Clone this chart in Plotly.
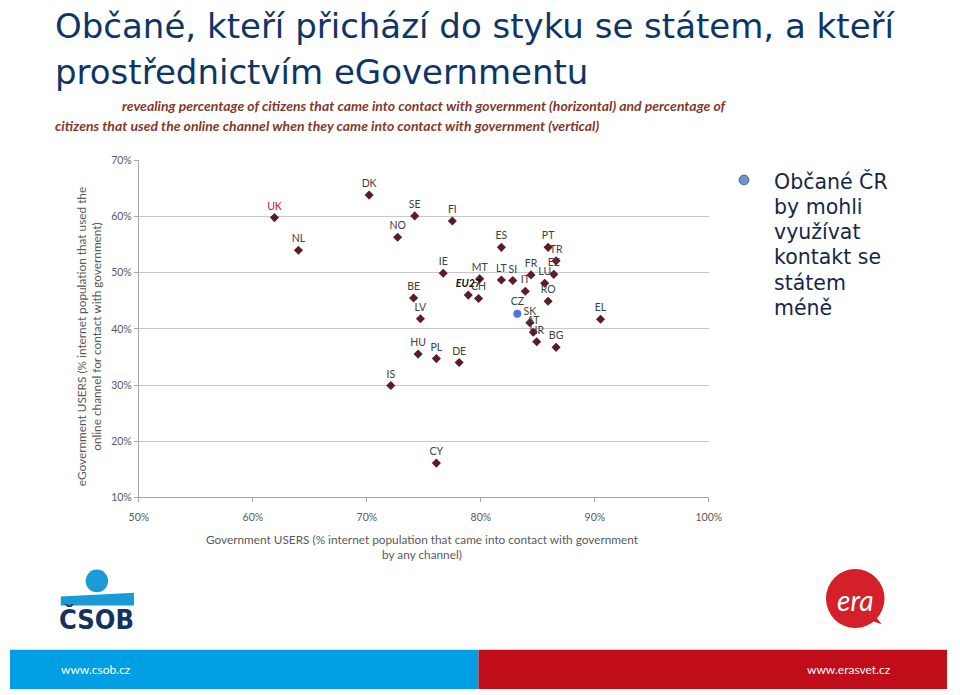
import plotly.graph_objects as go

# ---------------- data ----------------
countries = ["UK", "NL", "DK", "SE", "FI", "NO", "IE", "MT", "CH", "BE", "LV",
             "ES", "LT", "SI", "IT", "FR", "LU", "PT", "TR", "EE", "RO", "SK",
             "AT", "HR", "BG", "EL", "HU", "PL", "DE", "IS", "CY"]
contact_pct = [61.9, 64.0, 70.2, 74.2, 77.5, 72.7, 76.7, 79.9, 79.8, 74.1, 74.7,
               81.8, 81.8, 82.8, 83.9, 84.4, 85.6, 85.9, 86.6, 86.4, 85.9, 84.3,
               84.6, 84.9, 86.6, 90.5, 74.5, 76.1, 78.1, 72.1, 76.1]
online_pct = [59.8, 54.0, 63.8, 60.1, 59.2, 56.3, 49.9, 48.9, 45.4, 45.5, 41.8,
              54.5, 48.7, 48.6, 46.7, 49.6, 48.1, 54.5, 52.1, 49.7, 44.9, 41.1,
              39.4, 37.7, 36.7, 41.7, 35.5, 34.7, 34.0, 29.9, 16.1]
eu_label = ["EU27"]
eu_contact = [78.9]
eu_online = [46.0]
cz_label = ["CZ"]
cz_contact = [83.2]
cz_online = [42.7]
x_ticks = [50, 60, 70, 80, 90, 100]
y_ticks = [10, 20, 30, 40, 50, 60, 70]
x_tick_labels = [f"{v}%" for v in x_ticks]
y_tick_labels = [f"{v}%" for v in y_ticks]
bullet_lines = ["Občané ČR", "by mohli", "využívat", "kontakt se", "státem", "méně"]

W, H = 960, 695
def px(x): return x / W
def py(y): return 1 - y / H

CHART_FONT = "Lato, Liberation Sans, sans-serif"
SLIDE_FONT = "DejaVu Sans, sans-serif"
MARK = "#5c1b2c"

fig = go.Figure()

label_colors = ["#c8102e" if c == "UK" else "#404040" for c in countries]
fig.add_trace(go.Scatter(
    x=contact_pct, y=online_pct, text=countries, mode="markers+text",
    textposition="top center",
    marker=dict(symbol="diamond", size=7, color=MARK),
    textfont=dict(family=CHART_FONT, size=10.5, color=label_colors),
    showlegend=False, cliponaxis=False))
fig.add_trace(go.Scatter(
    x=eu_contact, y=eu_online, text=eu_label, mode="markers+text",
    textposition="top center",
    marker=dict(symbol="diamond", size=7, color=MARK),
    textfont=dict(family=CHART_FONT, size=10.5, color="#111111",
                  weight="bold", style="italic"),
    showlegend=False, cliponaxis=False))
fig.add_trace(go.Scatter(
    x=cz_contact, y=cz_online, text=cz_label, mode="markers+text",
    textposition="top center",
    marker=dict(symbol="circle", size=8, color="#4a78d8"),
    textfont=dict(family=CHART_FONT, size=10.5, color="#404040"),
    showlegend=False, cliponaxis=False))

axis_common = dict(
    ticks="outside", ticklen=4, tickcolor="#a6a6a6", showline=True,
    linecolor="#a6a6a6", linewidth=1, zeroline=False,
    tickfont=dict(family=CHART_FONT, size=10.5, color="#595959"))

fig.update_layout(
    width=W, height=H, margin=dict(l=0, r=0, t=0, b=0),
    paper_bgcolor="white", plot_bgcolor="white",
    xaxis=dict(domain=[px(132), px(716)], range=[50, 100], tickvals=x_ticks,
               ticktext=x_tick_labels, showgrid=False, ticklabelstandoff=6,
               **axis_common),
    yaxis=dict(domain=[py(500), py(157)], range=[10, 70], tickvals=y_ticks,
               ticktext=y_tick_labels, showgrid=True, gridcolor="#c8c8c8",
               gridwidth=1, **axis_common),
)

annotations = []
# slide title
annotations.append(dict(text="Občané, kteří přichází do styku se státem, a kteří",
                        x=px(44), y=py(20), xanchor="left", yanchor="middle",
                        font=dict(family=SLIDE_FONT, size=34, color="#0f3565")))
annotations.append(dict(text="prostřednictvím eGovernmentu",
                        x=px(44), y=py(67), xanchor="left", yanchor="middle",
                        font=dict(family=SLIDE_FONT, size=34, color="#0f3565")))
# chart subtitle
sub_font = dict(family="Liberation Sans Narrow, Lato, sans-serif", size=14,
                color="#83392b", weight="bold", style="italic")
annotations.append(dict(text="revealing percentage of citizens that came into contact with government (horizontal) and percentage of",
                        x=px(113), y=py(101), xanchor="left", yanchor="middle", font=sub_font))
annotations.append(dict(text="citizens that used the online channel when they came into contact with government (vertical)",
                        x=px(44), y=py(122), xanchor="left", yanchor="middle", font=sub_font))
# axis titles
title_font = dict(family=CHART_FONT, size=11.8, color="#595959")
annotations.append(dict(text="eGovernment USERS (% internet population that used the<br>online channel for contact with government)",
                        x=px(81), y=py(337), textangle=-90, xanchor="center", yanchor="middle",
                        font=title_font))
annotations.append(dict(text="Government USERS (% internet population that came into contact with government<br>by any channel)",
                        x=px(423), y=py(551), xanchor="center", yanchor="middle",
                        font=title_font))
# right bullet text
for i, line in enumerate(bullet_lines):
    annotations.append(dict(text=line, x=px(781), y=py(179 + i * 25.6),
                            xanchor="left", yanchor="middle", align="left",
                            font=dict(family=SLIDE_FONT, size=20.5, color="#16284a")))
# logos text
annotations.append(dict(text="<b>ČSOB</b>", x=px(89), y=py(624), xanchor="center", yanchor="middle",
                        font=dict(family="DejaVu Sans Condensed, DejaVu Sans, sans-serif",
                                  size=27, color="#13325f")))
annotations.append(dict(text="<i>era</i>", x=px(866), y=py(604), xanchor="center", yanchor="middle",
                        font=dict(family="Lato, sans-serif", size=28, color="white")))
# footer text
foot_font = dict(family="Liberation Sans Narrow, Lato, sans-serif", size=12, color="white")
annotations.append(dict(text="www.csob.cz", x=px(50), y=py(675), xanchor="left", yanchor="middle",
                        font=foot_font))
annotations.append(dict(text="www.erasvet.cz", x=px(905), y=py(675), xanchor="right", yanchor="middle",
                        font=foot_font))
for a in annotations:
    a.update(xref="paper", yref="paper", showarrow=False)
fig.update_layout(annotations=annotations)

shapes = []
def rect(x0, y0, x1, y1, color):
    return dict(type="rect", xref="paper", yref="paper", x0=px(x0), x1=px(x1),
                y0=py(y1), y1=py(y0), fillcolor=color, line=dict(width=0))
def circle(cx, cy, r, color, line=None):
    return dict(type="circle", xref="paper", yref="paper", x0=px(cx - r), x1=px(cx + r),
                y0=py(cy + r), y1=py(cy - r), fillcolor=color,
                line=line or dict(width=0))
# footer bands
shapes.append(rect(0, 655, 480, 695, "#009fe3"))
shapes.append(rect(480, 655, 960, 695, "#c10c19"))
# bullet
shapes.append(circle(752, 177, 5, "#6d93cc", dict(width=1, color="#3f6aa8")))
# ČSOB logo
shapes.append(circle(89, 585, 11.5, "#1a9ad6"))
shapes.append(dict(type="path", xref="paper", yref="paper",
                   path="M {} {} L {} {} L {} {} L {} {} Z".format(
                       px(52), py(601), px(127), py(597), px(127), py(610), px(52), py(610)),
                   fillcolor="#1a9ad6", line=dict(width=0)))
# era logo
shapes.append(dict(type="path", xref="paper", yref="paper",
                   path="M {} {} L {} {} L {} {} Z".format(
                       px(878), py(624), px(893), py(629), px(883), py(616)),
                   fillcolor="#d4202a", line=dict(width=0)))
shapes.append(circle(866, 603, 30, "#d4202a"))
fig.update_layout(shapes=shapes)

page_css = (
    "var s=document.createElement('style');"
    "s.textContent='html,body{margin:0;padding:0;width:960px;height:695px;overflow:hidden;}"
    ".plotly-graph-div{position:fixed!important;left:0;top:0;}';"
    "document.head.appendChild(s);"
)
fig.write_html("out.html", post_script=page_css)
